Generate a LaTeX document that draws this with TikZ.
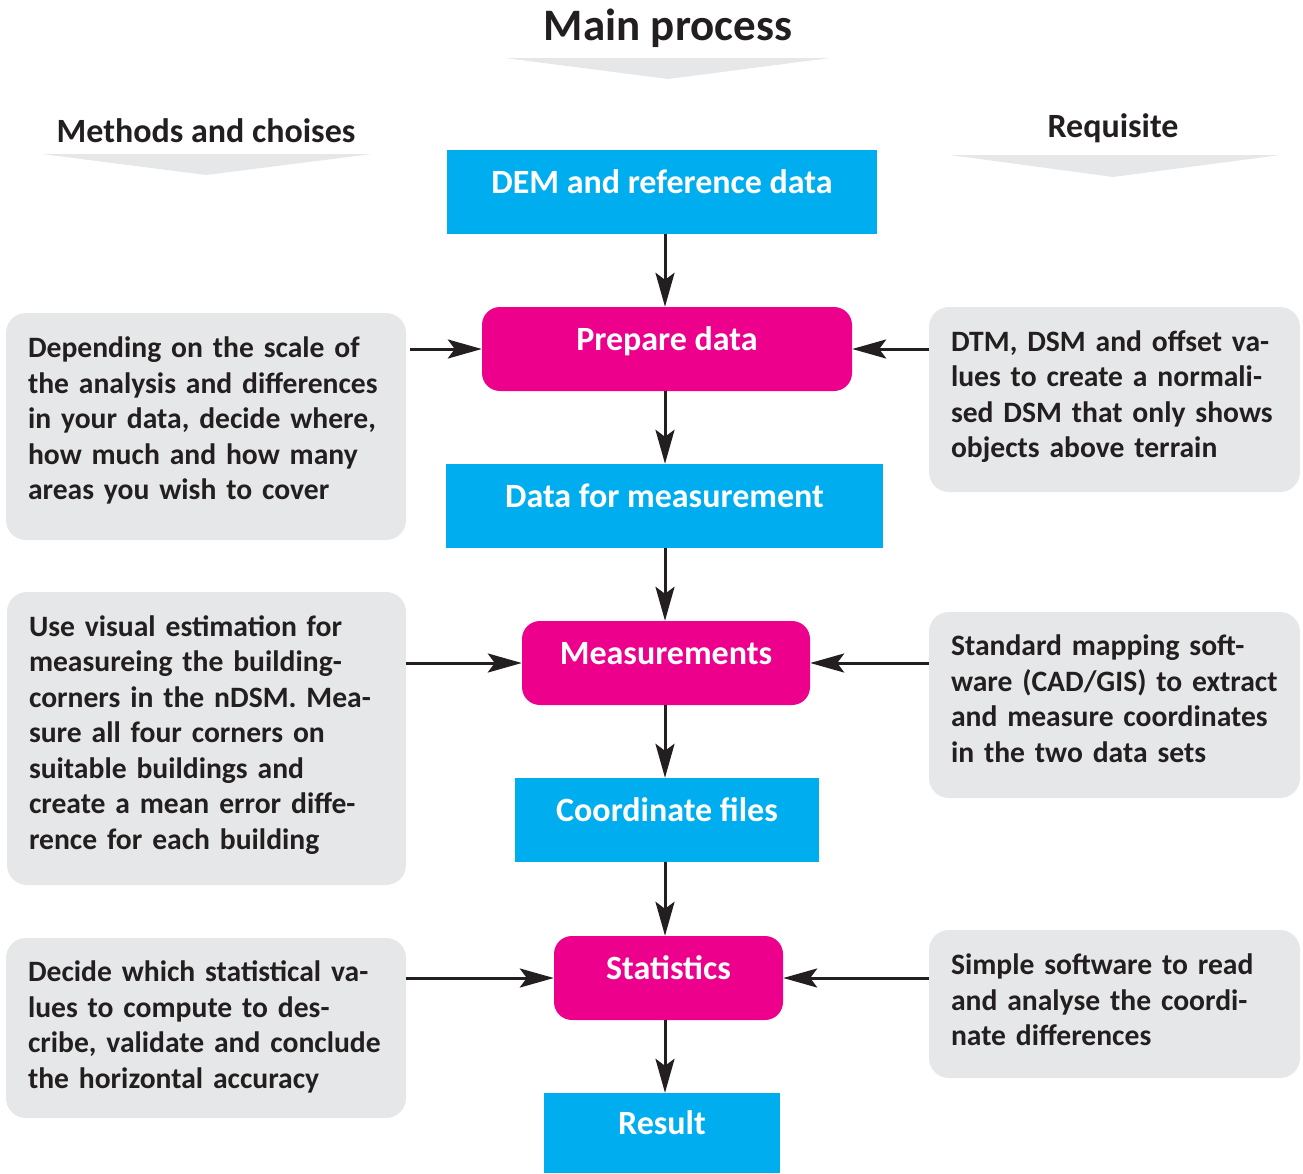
\documentclass[tikz,border=0pt]{standalone}
\usepackage{fontspec}
\setmainfont{Carlito}
\usetikzlibrary{arrows.meta}
\definecolor{cyanbox}{HTML}{00AEEF}
\definecolor{pinkbox}{HTML}{EC008C}
\definecolor{greybox}{HTML}{E6E7E8}
\definecolor{chev}{HTML}{E6E7E8}
\definecolor{ink}{HTML}{231F20}
\tikzset{
  boxtext/.style={text=white, font=\fontsize{34}{40}\selectfont\bfseries, minimum height=84pt, inner sep=0pt, text height=14pt, text depth=12pt},
  bluebox/.style={boxtext, fill=cyanbox},
  pinkbox/.style={boxtext, fill=pinkbox, rounded corners=18pt},
  greybox/.style={fill=greybox, text=ink, rounded corners=20pt, align=left, font=\fontsize{29.6}{35.5}\selectfont\bfseries, inner xsep=22pt, inner ysep=0pt, anchor=center, text height=20pt},
  heading/.style={text=ink, font=\fontsize{34}{40}\selectfont\bfseries, inner sep=0pt, anchor=base},
  arr/.style={draw=ink, line width=3pt, -{Stealth[length=34pt, width=19pt, inset=7pt]}},
}
\begin{document}
\begin{tikzpicture}[x=1pt,y=-1pt]
\useasboundingbox (0,0) rectangle (1303,1173);
% headings
\node[heading, font=\fontsize{45}{50}\selectfont\bfseries] (main) at (668,40) {Main process};
\fill[chev] (505,58) -- (830,58) -- (668,79) -- cycle;
\node[heading] (meth) at (206,142) {Methods and choises};
\fill[chev] (42,154) -- (372,154) -- (206,175) -- cycle;
\node[heading] (req) at (1113,137) {Requisite};
\fill[chev] (950,155) -- (1280,155) -- (1113,177) -- cycle;
% main column
\coordinate (col) at (665,0);
\node[bluebox, minimum width=430pt] (dem) at (662,192) {DEM and reference data};
\node[pinkbox, minimum width=370pt] (prep) at (667,349) {Prepare data};
\node[bluebox, minimum width=437pt] (dfm) at (664.5,506) {Data for measurement};
\node[pinkbox, minimum width=288pt] (meas) at (666,663) {Measurements};
\node[bluebox, minimum width=304pt] (coord) at (667,820) {Coordinate files};
\node[pinkbox, minimum width=229pt] (stat) at (668.5,978) {Statistics};
\node[bluebox, minimum width=236pt, minimum height=80pt] (res) at (662,1133) {Result};
% left boxes
\node[greybox, minimum width=400pt, minimum height=227pt, text width=356pt, text depth=158pt] (l1) at (206,426.5) {Depending on the scale of\\the analysis and differences\\in your data, decide where,\\how much and how many\\areas you wish to cover};
\node[greybox, minimum width=399pt, minimum height=293pt, text width=355pt, text depth=225pt] (l2) at (206.5,738.5) {Use visual estimation for\\measureing the building-\\corners in the nDSM. Mea-\\sure all four corners on\\suitable buildings and\\create a mean error diffe-\\rence for each building};
\node[greybox, minimum width=400pt, minimum height=180pt, text width=356pt, text depth=112.5pt] (l3) at (206,1028) {Decide which statistical va-\\lues to compute to des-\\cribe, validate and conclude\\the horizontal accuracy};
% right boxes
\node[greybox, minimum width=371pt, minimum height=185pt, text width=327pt, text depth=116.5pt] (r1) at (1114.5,399.5) {DTM, DSM and offset va-\\lues to create a normali-\\sed DSM that only shows\\objects above terrain};
\node[greybox, minimum width=371pt, minimum height=186pt, text width=327pt, text depth=118.5pt] (r2) at (1114.5,705) {Standard mapping soft-\\ware (CAD/GIS) to extract\\and measure coordinates\\in the two data sets};
\node[greybox, minimum width=371pt, minimum height=148pt, text width=327pt, text depth=79pt] (r3) at (1114.5,1004) {Simple software to read\\and analyse the coordi-\\nate differences};
% vertical arrows
\draw[arr] (dem.south -| col) -- (prep.north -| col);
\draw[arr] (prep.south -| col) -- (dfm.north -| col);
\draw[arr] (dfm.south -| col) -- (meas.north -| col);
\draw[arr] (meas.south -| col) -- (coord.north -| col);
\draw[arr] (coord.south -| col) -- (stat.north -| col);
\draw[arr] (stat.south -| col) -- (res.north -| col);
% horizontal arrows
\draw[arr, shorten <=4pt] (l1.east |- prep.west) -- (prep.west);
\draw[arr] (l2.east |- meas.west) -- (meas.west);
\draw[arr] (l3.east |- stat.west) -- (stat.west);
\draw[arr] (r1.west |- prep.east) -- (prep.east);
\draw[arr] (r2.west |- meas.east) -- (meas.east);
\draw[arr] (r3.west |- stat.east) -- (stat.east);
\end{tikzpicture}
\end{document}
